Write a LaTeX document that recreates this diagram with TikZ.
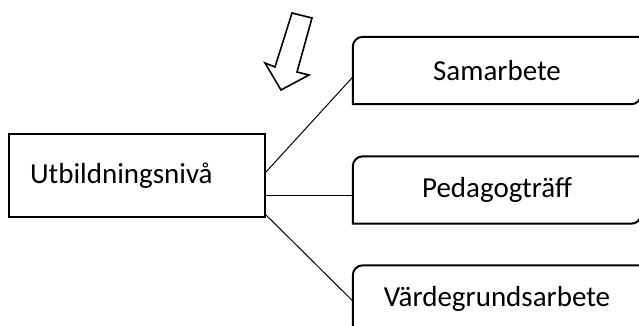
\documentclass[tikz,border=0pt]{standalone}
\usepackage{fontspec}
\setmainfont{Carlito}
\usetikzlibrary{calc}
\usetikzlibrary{arrows.meta}
\tikzset{
	ruta/.style={minimum width=288,minimum height=67,inner sep=0pt,font=\fontsize{29}{35}\selectfont},
	kant/.style={line width=2pt,black},
	linje/.style={line width=1pt,black}
}

\begin{document}
\begin{tikzpicture}[x=1pt,y=1pt]
			\useasboundingbox (0,0) rectangle (639,326);
			\begin{scope}
			\clip (0,0) rectangle (639,326);
			\node[draw,line width=2pt,minimum width=256,minimum height=83,text width=214,inner xsep=21,align=left,font=\fontsize{29}{35}\selectfont] (u) at (137,150.5) {Utbildningsnivå};
			%rutor till höger
			\node[ruta] (s) at (497,255.5) {Samarbete};
			\node[ruta] (p) at (497,136) {Pedagogträff};
			\node[ruta] (v) at (497,27) {Värdegrundsarbete};
			\draw[kant] (s.south west) -- ([yshift=-10]s.north west) arc[start angle=180,end angle=90,radius=10] -- (s.north east) -- ([yshift=10]s.south east) arc[start angle=0,end angle=-90,radius=10] -- cycle;
			\draw[kant] (p.south west) -- ([yshift=-10]p.north west) arc[start angle=180,end angle=90,radius=10] -- (p.north east) -- ([yshift=10]p.south east) arc[start angle=0,end angle=-90,radius=10] -- cycle;
			\draw[kant] (v.south west) -- ([yshift=-10]v.north west) arc[start angle=180,end angle=90,radius=10] -- (v.north east) -- ([yshift=10]v.south east) arc[start angle=0,end angle=-90,radius=10] -- cycle;
			%linjer
			\draw[linje] ([yshift=3.5]u.east) -- ([yshift=-6.5]s.west);
			\draw[linje] ([yshift=-20.5]u.east) -- ([yshift=-6]p.west);
			\draw[linje] ([yshift=-39.5]u.east) -- ([yshift=-2]v.west);
			%pil
			\draw[line width=1.6pt,line join=miter] (292,313) -- (275,259) -- (265,263) -- (281,236) -- (309,251) -- (297,254) -- (312,308) -- cycle;
			\end{scope}
		\end{tikzpicture}
\end{document}
